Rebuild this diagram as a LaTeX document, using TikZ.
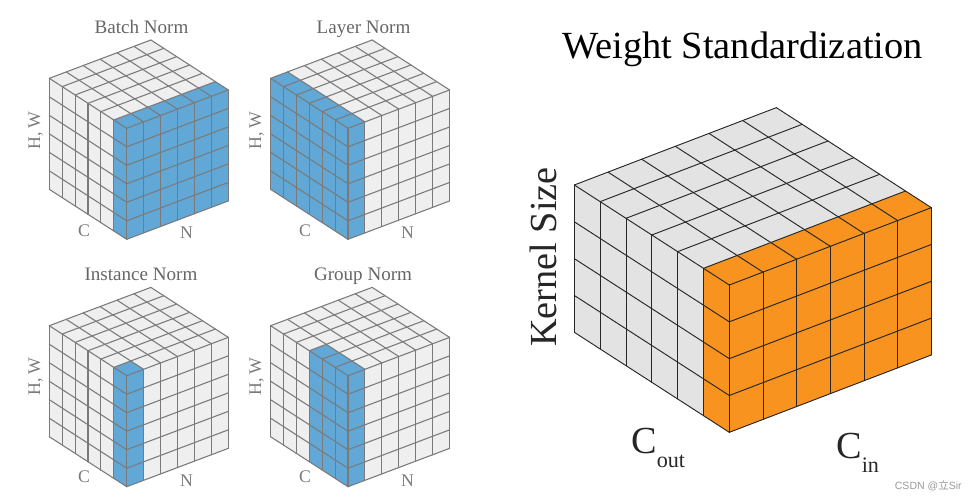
\documentclass[tikz,border=0pt]{standalone}
\usepackage{fontspec}
\setmainfont{Liberation Serif}
\setsansfont{Liberation Sans}
\newfontfamily\cjkfont{Noto Sans CJK SC}
\usepackage{tikz}
\usetikzlibrary{calc}

\definecolor{gridgray}{HTML}{7A7A7A}
\definecolor{cellgray}{HTML}{EFEFEF}
\definecolor{cellblue}{HTML}{62A8D7}
\definecolor{bigcell}{HTML}{E3E3E3}
\definecolor{bigorange}{HTML}{F7931E}
\definecolor{labelgray}{HTML}{666666}

% #1 front corner, #2 rows, #3 marked cells along C, #4 marked cells along N,
% #5 grid style, #6 plain fill, #7 marked fill
\newcommand{\normcube}[7]{
	\coordinate (f) at (#1);
	\fill[#6] (f) -- ($(f)+6*(cv)$) -- ($(f)+6*(cv)+6*(nv)$) -- ($(f)+6*(nv)$) -- cycle;
	\fill[#6] (f) -- ($(f)+6*(cv)$) -- ($(f)+6*(cv)+#2*(hv)$) -- ($(f)+#2*(hv)$) -- cycle;
	\fill[#6] (f) -- ($(f)+6*(nv)$) -- ($(f)+6*(nv)+#2*(hv)$) -- ($(f)+#2*(hv)$) -- cycle;
	\fill[#7] (f) -- ($(f)+#3*(cv)$) -- ($(f)+#3*(cv)+#4*(nv)$) -- ($(f)+#4*(nv)$) -- cycle;
	\fill[#7] (f) -- ($(f)+#3*(cv)$) -- ($(f)+#3*(cv)+#2*(hv)$) -- ($(f)+#2*(hv)$) -- cycle;
	\fill[#7] (f) -- ($(f)+#4*(nv)$) -- ($(f)+#4*(nv)+#2*(hv)$) -- ($(f)+#2*(hv)$) -- cycle;
	\foreach \i in {0,...,6}{
		\draw[#5] ($(f)+\i*(cv)$) -- ($(f)+\i*(cv)+6*(nv)$);
		\draw[#5] ($(f)+\i*(nv)$) -- ($(f)+\i*(nv)+6*(cv)$);
		\draw[#5] ($(f)+\i*(cv)$) -- ($(f)+\i*(cv)+#2*(hv)$);
		\draw[#5] ($(f)+\i*(nv)$) -- ($(f)+\i*(nv)+#2*(hv)$);
	}
	\foreach \j in {1,...,#2}{
		\draw[#5] ($(f)+\j*(hv)$) -- ($(f)+\j*(hv)+6*(cv)$);
		\draw[#5] ($(f)+\j*(hv)$) -- ($(f)+\j*(hv)+6*(nv)$);
	}
}
\newcommand{\smallcube}[3]{\normcube{#1}{6}{#2}{#3}{small grid}{cellgray}{cellblue}}

\begin{document}
\begin{tikzpicture}[x=0.75pt,y=-0.75pt]
\tikzset{
	small grid/.style = {draw = gridgray, line width = 0.8pt, line cap = round},
	big grid/.style = {draw = black!85, line width = 0.7pt, line cap = round},
	head label/.style = {inner sep = 0, anchor = base, text = labelgray, font = \fontsize{14.3}{16}\selectfont},
	axis label/.style = {inner sep = 0, anchor = base, text = gridgray, font = \fontsize{13.3}{15}\selectfont},
	big label/.style = {inner sep = 0, text = black!85, font = \fontsize{28.7}{32}\selectfont},
}
\useasboundingbox (0,0) rectangle (980,499);

% four small cubes
\coordinate (cv) at (-12.9,-8.33);
\coordinate (nv) at (16.93,-6.39);
\coordinate (hv) at (0,18.5);
\smallcube{126.7,128.3}{1}{6}
\smallcube{348,128.3}{6}{1}
\smallcube{126.7,375.7}{1}{1}
\smallcube{348,375.7}{3}{1}

% big cube
\coordinate (cv) at (-25.83,-16.67);
\coordinate (nv) at (33.67,-12.89);
\coordinate (hv) at (0,36.83);
\normcube{729.3,285}{4}{1}{6}{big grid}{bigcell}{bigorange}

\node (batch)[head label] at (141.5,33.3) {Batch Norm};
\node (layer)[head label] at (363.5,33.3) {Layer Norm};
\node (instance)[head label] at (141,280) {Instance Norm};
\node (group)[head label] at (363,280) {Group Norm};

\foreach \name/\x/\y in {a/40/130.5,b/261/130.5,c/40/376.5,d/261/376.5}{
	\node (hw\name)[axis label, rotate = 90] at (\x,\y) {H, W};
}
\foreach \name/\x/\y in {a/84/236.7,b/305/236.7,c/84/482.7,d/305/482.7}{
	\node (c\name)[axis label] at (\x,\y) {C};
}
\foreach \name/\x/\y in {a/186.5/238.3,b/407.5/238.3,c/186.5/486,d/407.5/486}{
	\node (n\name)[axis label] at (\x,\y) {N};
}

\node (title)[inner sep = 0, anchor = base, font = \fontsize{28.8}{32}\selectfont] at (742.5,58.5) {Weight Standardization};
\node (kernel)[big label, anchor = base, rotate = 90] at (556,257) {Kernel Size};
\node (cout)[big label, anchor = base west] at (631,453) {C\raisebox{-10.5pt}{\fontsize{16.6}{18}\selectfont out}};
\node (cin)[big label, anchor = base west] at (836,458.7) {C\raisebox{-10pt}{\fontsize{16.6}{18}\selectfont in}};

\node (mark)[inner sep = 0, anchor = base east, text = black!40, font = \sffamily\fontsize{7.9}{10}\selectfont] at (962,489) {CSDN @{\cjkfont 立}Sir};

\end{tikzpicture}
\end{document}
